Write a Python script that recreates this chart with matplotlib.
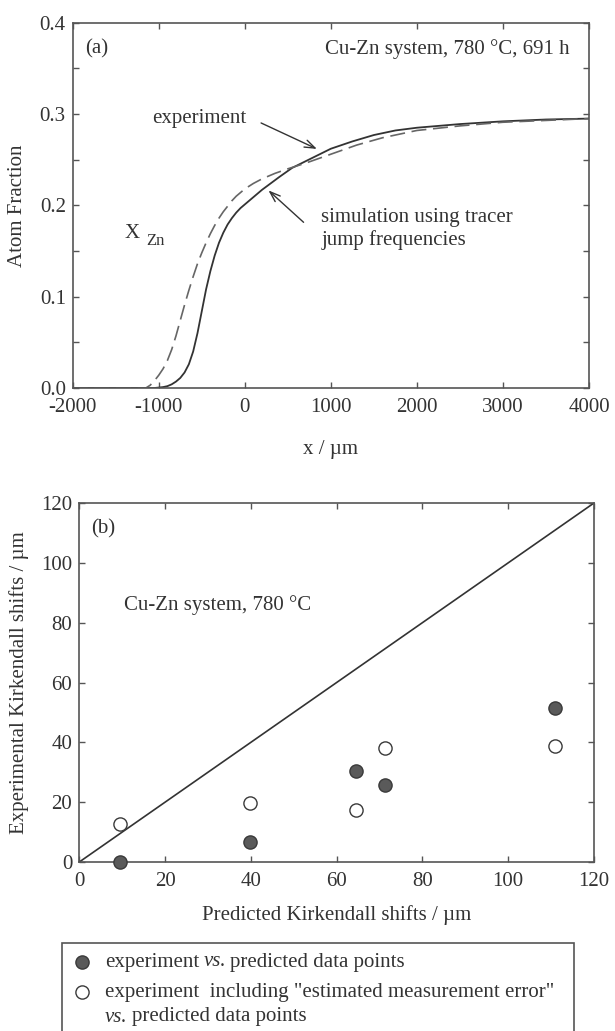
import numpy as np
import matplotlib
matplotlib.use("Agg")
import matplotlib.pyplot as plt
from matplotlib.lines import Line2D
from matplotlib.patches import Rectangle
from matplotlib.ticker import MultipleLocator

plt.rcParams['font.family'] = ['Liberation Serif', 'DejaVu Serif']
plt.rcParams['font.size'] = 15

# (a) concentration profiles, x in um, atom fraction Zn
sim_x = [-2000, -1050, -1000, -950, -900, -850, -800, -750, -700, -650, -600, -550,
         -500, -450, -400, -350, -300, -250, -200, -150, -100, -50, 0, 100, 200, 300,
         400, 550, 700, 850, 1000, 1250, 1500, 1750, 2000, 2500, 3000, 3500, 4000]
sim_y = [0, 0, 0.0005, 0.001, 0.002, 0.004, 0.007, 0.011, 0.017, 0.026, 0.040, 0.060,
         0.084, 0.108, 0.128, 0.145, 0.159, 0.170, 0.179, 0.186, 0.192, 0.197, 0.201,
         0.209, 0.217, 0.224, 0.231, 0.241, 0.248, 0.255, 0.262, 0.270, 0.277, 0.282,
         0.285, 0.289, 0.292, 0.294, 0.295]

exp_x = [-2000, -1150, -1100, -1050, -1000, -950, -900, -850, -800, -750, -700, -650,
         -600, -550, -500, -450, -400, -350, -300, -250, -200, -150, -100, 0, 100, 200,
         350, 500, 700, 1000, 1300, 1600, 2000, 2500, 3000, 3500, 4000]
exp_y = [0, 0, 0.003, 0.008, 0.014, 0.021, 0.030, 0.042, 0.057, 0.074, 0.091, 0.107,
         0.122, 0.136, 0.148, 0.159, 0.169, 0.178, 0.186, 0.193, 0.199, 0.205, 0.210,
         0.218, 0.224, 0.229, 0.235, 0.240, 0.246, 0.256, 0.266, 0.274, 0.282, 0.287,
         0.291, 0.293, 0.295]

# (b) Kirkendall shifts, um
pred = [9.4, 39.9, 64.4, 71.3, 110.9]
meas = [0.0, 6.8, 30.3, 25.6, 51.5]
meas_err = [12.7, 19.7, 17.5, 38.2, 38.9]

ink = '#333333'
spine_c = '#555555'

fig = plt.figure(figsize=(6.15, 10.31), dpi=100)
W, H = 615, 1031

def style(ax):
    for s in ax.spines.values():
        s.set_color(spine_c)
        s.set_linewidth(1.2)
    ax.tick_params(which='both', direction='in', top=True, right=True,
                   length=4, width=1, color=spine_c, labelcolor=ink)
    ax.tick_params(axis='x', pad=7)
    ax.tick_params(axis='y', pad=5)

# ---- panel (a)
ax1 = fig.add_axes([72.7/W, 1-388/H, (589-72.7)/W, (388-22.7)/H])
ax1.plot(sim_x, sim_y, '-', color=ink, lw=1.3)
ax1.plot(exp_x, exp_y, '--', color='#666666', lw=1.2, dashes=(9, 4))
ax1.set_xlim(-2000, 4000)
ax1.set_ylim(0, 0.4)
ax1.yaxis.set_major_locator(MultipleLocator(0.1))
ax1.yaxis.set_minor_locator(MultipleLocator(0.05))
ax1.yaxis.set_major_formatter(plt.FormatStrFormatter('%.1f'))
ax1.set_xticks([-2000, -1000, 0, 1000, 2000, 3000, 4000])
ax1.set_xticklabels(['-2000', '-1000', '0', '1000', '2000', '3000', '4000'])
style(ax1)
ax1.set_xlabel('x / µm', color=ink)
ax1.xaxis.set_label_coords(0.5, -0.142)
ax1.set_ylabel('Atom Fraction', color=ink)
ax1.yaxis.set_label_coords(-0.088, 0.5)

ax1.text(-1857, 0.371, '(a)', color=ink, va='center', ha='left')
ax1.text(3772, 0.371, 'Cu-Zn system, 780 °C, 691 h', color=ink, va='center', ha='right')
ax1.text(-1072, 0.2952, 'experiment', color=ink, va='center', ha='left')
ax1.annotate('', xy=(867, 0.2605), xytext=(160, 0.2915),
             arrowprops=dict(arrowstyle='->,head_length=0.5,head_width=0.18', color=ink, lw=1))
ax1.text(890, 0.1737, 'simulation using tracer\njump frequencies', color=ink,
         va='center', ha='left', linespacing=1.2)
ax1.annotate('', xy=(251, 0.2184), xytext=(707, 0.1794),
             arrowprops=dict(arrowstyle='->,head_length=0.5,head_width=0.18', color=ink, lw=1))
ax1.text(-1400, 0.169, 'X', color=ink, va='center', ha='left')
ax1.text(-1150, 0.161, 'Zn', color=ink, va='center', ha='left', fontsize=12)

# ---- panel (b)
ax2 = fig.add_axes([79.3/W, 1-862/H, (594-79.3)/W, (862-503)/H])
ax2.plot([0, 120], [0, 120], '-', color=ink, lw=1.2)
ax2.plot(pred, meas, 'o', ms=9.5, mfc='#5a5a5a', mec='#3a3a3a', mew=1, clip_on=False, zorder=3)
ax2.plot(pred, meas_err, 'o', ms=9.5, mfc='white', mec='#3a3a3a', mew=1, clip_on=False, zorder=3)
ax2.set_xlim(0, 120)
ax2.set_ylim(0, 120)
ax2.xaxis.set_major_locator(MultipleLocator(20))
ax2.yaxis.set_major_locator(MultipleLocator(20))
style(ax2)
ax2.set_xlabel('Predicted Kirkendall shifts / µm', color=ink)
ax2.xaxis.set_label_coords(0.5, -0.12)
ax2.set_ylabel('Experimental Kirkendall shifts / µm', color=ink)
ax2.yaxis.set_label_coords(-0.097, 0.5)
ax2.text(2.7, 111.3, '(b)', color=ink, va='center', ha='left')
ax2.text(10.4, 85.9, 'Cu-Zn system, 780 °C', color=ink, va='center', ha='left')

# ---- legend box (runs off the bottom edge)
fig.add_artist(Rectangle((62/W, -0.02), (574-62)/W, 0.02 + 1 - 943/H,
                         transform=fig.transFigure, fill=False, ec=spine_c, lw=1.2))
fig.add_artist(Line2D([82/W], [1-962/H], marker='o', ms=9.5, mfc='#5a5a5a', mec='#3a3a3a',
                      mew=1, transform=fig.transFigure))
fig.add_artist(Line2D([82/W], [1-992/H], marker='o', ms=9.5, mfc='white', mec='#3a3a3a',
                      mew=1, transform=fig.transFigure))

renderer = fig.canvas.get_renderer()

def text_run(x, y, parts):
    # write roman and italic pieces one after another on one line
    for s, st in parts:
        t = fig.text(x/W, 1-y/H, s, color=ink, va='center', ha='left', style=st)
        x = t.get_window_extent(renderer).x1 + 4

text_run(105, 962, [('experiment', 'normal'), ('vs.', 'italic'),
                    ('predicted data points', 'normal')])
fig.text(105/W, 1-992/H, 'experiment  including "estimated measurement error"', color=ink,
         va='center', ha='left')
text_run(105, 1017, [('vs.', 'italic'), ('predicted data points', 'normal')])

fig.savefig('out.png', dpi=100)
